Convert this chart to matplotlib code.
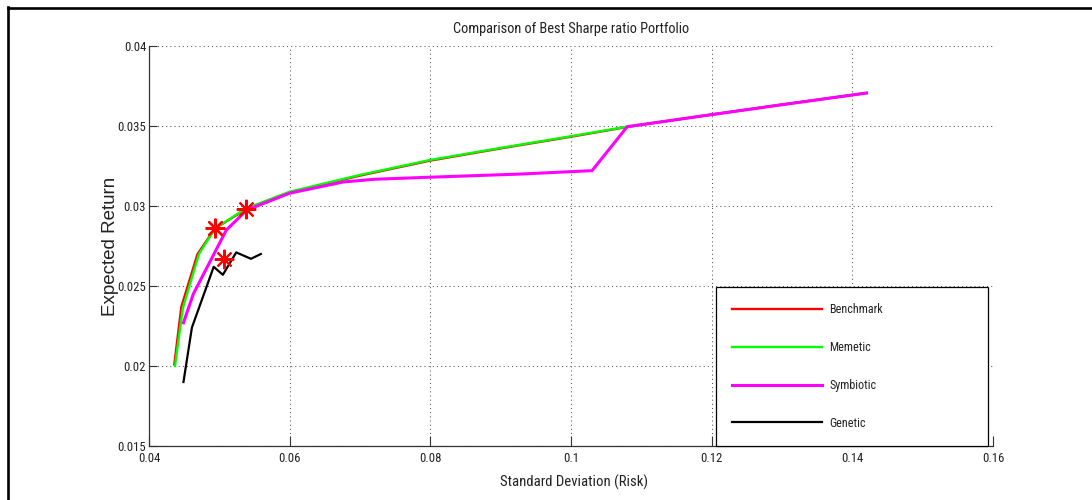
import matplotlib
matplotlib.use("Agg")
import matplotlib.pyplot as plt
import matplotlib.font_manager as fm
from matplotlib.font_manager import FontProperties
from matplotlib.lines import Line2D

# Efficient frontiers (risk = standard deviation, return = expected return)
benchmark_risk = [0.0436, 0.0446, 0.0469, 0.0494, 0.0538, 0.0600, 0.0700, 0.0800,
                  0.0900, 0.1000, 0.1080, 0.1200, 0.1300, 0.1420]
benchmark_ret = [0.0201, 0.0237, 0.0270, 0.0286, 0.0298, 0.03085, 0.03190, 0.03284,
                 0.03360, 0.03433, 0.03494, 0.03572, 0.03634, 0.03706]

memetic_risk = [0.0437, 0.0448, 0.0471, 0.0494, 0.0538, 0.0600, 0.0700, 0.0800,
                0.0900, 0.1000, 0.1080, 0.1200, 0.1300, 0.1420]
memetic_ret = [0.0200, 0.0236, 0.0270, 0.0286, 0.02985, 0.03089, 0.03194, 0.03288,
               0.03363, 0.03436, 0.03496, 0.03571, 0.03633, 0.03706]

symbiotic_risk = [0.0449, 0.0463, 0.0510, 0.0539, 0.0600, 0.0676, 0.0720, 0.0800,
                  0.0930, 0.1030, 0.1080, 0.1200, 0.1300, 0.1420]
symbiotic_ret = [0.0227, 0.0245, 0.0285, 0.02975, 0.0308, 0.0315, 0.03167, 0.0318,
                 0.0320, 0.03221, 0.03496, 0.03571, 0.03633, 0.03706]

genetic_risk = [0.0449, 0.0461, 0.0492, 0.0505, 0.0524, 0.0545, 0.0559]
genetic_ret = [0.0190, 0.0224, 0.0262, 0.0257, 0.0271, 0.0267, 0.0270]

# Best Sharpe ratio portfolio of each method
best_risk = [0.0494, 0.0494, 0.0538, 0.0507]
best_ret = [0.0286, 0.0286, 0.0298, 0.0267]

series_names = ["Benchmark", "Memetic", "Symbiotic", "Genetic"]
x_ticks = [0.04, 0.06, 0.08, 0.1, 0.12, 0.14, 0.16]
y_ticks = [0.015, 0.02, 0.025, 0.03, 0.035, 0.04]


def narrow_font():
    """Return (font path, scale) for a condensed sans face, or a regular one scaled down."""
    preferred = ["Liberation Sans Narrow", "Roboto Condensed", "Open Sans Condensed",
                 "Noto Sans Condensed", "DejaVu Sans Condensed", "Arial Narrow"]
    fonts = [f for f in fm.fontManager.ttflist if f.weight in (400, "normal", "regular")
             and f.style == "normal"]
    for name in preferred:
        for f in fonts:
            if f.name == name:
                return f.fname, 1.0
    for f in fonts:
        if f.stretch in ("condensed", "semi-condensed") or "Narrow" in f.name \
                or "Condensed" in f.name:
            return f.fname, 1.0
    return fm.findfont(FontProperties(family="Liberation Sans")), 0.8


NARROW_PATH, SCALE = narrow_font()


def nfont(size):
    return FontProperties(fname=NARROW_PATH, size=size * SCALE)


REGULAR = FontProperties(family=["Liberation Sans", "DejaVu Sans"], size=13.5)
TEXT = "#222222"

fig = plt.figure(figsize=(10.92, 5.0), dpi=100)
ax = fig.add_axes([149 / 1092, 1 - 446 / 500, 844 / 1092, 400 / 500])

ax.plot(benchmark_risk, benchmark_ret, color="#ff0000", lw=1.7, label=series_names[0], zorder=3)
ax.plot(memetic_risk, memetic_ret, color="#00ff00", lw=1.7, label=series_names[1], zorder=4)
ax.plot(symbiotic_risk, symbiotic_ret, color="#ff00ff", lw=2.2, label=series_names[2], zorder=5)
ax.plot(genetic_risk, genetic_ret, color="#000000", lw=1.6, label=series_names[3], zorder=6)
ax.plot(best_risk, best_ret, linestyle="none", marker=(8, 2, 0), markersize=14,
        markeredgewidth=1.5, color="#ff0000", zorder=7)

ax.set_xlim(0.04, 0.16)
ax.set_ylim(0.015, 0.04)
ax.set_xticks(x_ticks)
ax.set_xticklabels([f"{t:g}" for t in x_ticks], fontproperties=nfont(9.2), color=TEXT)
ax.set_yticks(y_ticks)
ax.set_yticklabels([f"{t:g}" for t in y_ticks], fontproperties=nfont(9.2), color=TEXT)
ax.tick_params(axis="x", direction="in", length=7, width=0.8, color="#333333", pad=4)
ax.tick_params(axis="y", direction="in", length=6, width=0.8, color="#333333", pad=2)

ax.grid(True, linestyle=(0, (1, 3)), linewidth=0.75, color="#555555")
for side in ("top", "right"):
    ax.spines[side].set_visible(False)
for side in ("left", "bottom"):
    ax.spines[side].set_color("#333333")
    ax.spines[side].set_linewidth(0.9)

ax.set_title("Comparison of Best Sharpe ratio Portfolio", fontproperties=nfont(10.4),
             color=TEXT, pad=9)
ax.set_xlabel("Standard Deviation (Risk)", fontproperties=nfont(10.6), color=TEXT)
ax.xaxis.set_label_coords(0.5035, -0.072)
ax.set_ylabel("Expected Return", fontproperties=REGULAR, color=TEXT)
ax.yaxis.set_label_coords(-0.036, 0.5)

leg = ax.legend(loc="lower left", bbox_to_anchor=(0.6718, 0.0, 0.3222, 0.4025),
                mode="expand", borderaxespad=0, frameon=True, fancybox=False,
                framealpha=1, edgecolor="#000000", borderpad=1.35, labelspacing=2.05,
                handlelength=7.4, handletextpad=0.65, prop=nfont(8.7))
leg.get_frame().set_linewidth(0.9)
for txt in leg.get_texts():
    txt.set_color(TEXT)
leg.set_zorder(10)

# Window frame along the top and left edges
fig.add_artist(Line2D([7.8 / 1092, 1.0], [1 - 7.8 / 500] * 2, color="black", lw=1.9,
                      transform=fig.transFigure))
fig.add_artist(Line2D([7.8 / 1092] * 2, [0.0, 1 - 6.9 / 500], color="black", lw=1.9,
                      transform=fig.transFigure))

fig.savefig("out.png", dpi=100)
